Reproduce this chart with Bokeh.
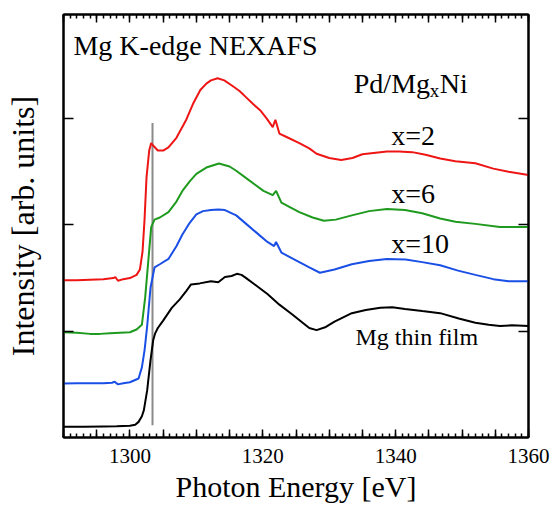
from bokeh.plotting import figure
from bokeh.models import FixedTicker, LinearAxis, CustomLabelingPolicy
from bokeh.core.properties import value
from bokeh.embed import file_html
from bokeh.resources import INLINE

# ---- data ----
e_x2 = [1290, 1292, 1294, 1296, 1297.5, 1297.8, 1298.2, 1299, 1300, 1301, 1301.5, 1301.9, 1302.2, 1302.5,
        1302.9, 1303.2, 1303.6, 1304.2, 1305, 1305.8, 1307, 1308.4, 1309.5, 1310.6, 1311.5, 1312.2, 1313.2,
        1314.2, 1315.4, 1316.5, 1317.5, 1318.5, 1319.6, 1320.6, 1321.5, 1321.9, 1322.5, 1323.5, 1325.5, 1327,
        1328.1, 1330, 1331.8, 1333.5, 1335, 1337, 1338.7, 1340.5, 1342.5, 1344.5, 1346.7, 1349, 1352, 1354.7,
        1357, 1360]
i_x2 = [1.48, 1.48, 1.485, 1.49, 1.50, 1.51, 1.475, 1.49, 1.50, 1.53, 1.58, 1.75, 2.05, 2.45,
        2.70, 2.77, 2.74, 2.70, 2.70, 2.73, 2.82, 2.98, 3.14, 3.27, 3.33, 3.36, 3.38,
        3.36, 3.31, 3.26, 3.20, 3.14, 3.08, 3.00, 2.92, 2.99, 2.86, 2.83, 2.77, 2.72,
        2.67, 2.63, 2.61, 2.63, 2.665, 2.68, 2.69, 2.69, 2.685, 2.66, 2.625, 2.60, 2.58, 2.53,
        2.50, 2.47]

e_x6 = [1290, 1292, 1294, 1295.5, 1297, 1298.5, 1300, 1301, 1301.8, 1302.3, 1302.9, 1303.2, 1303.7, 1304.5,
        1305.8, 1307, 1307.9, 1309, 1310, 1311.5, 1313.4, 1315, 1316, 1317.5, 1318.8, 1320.1, 1321.5, 1322,
        1322.8, 1324, 1325.5, 1327.5, 1329.2, 1331, 1333.4, 1336, 1338.7, 1341.4, 1344, 1346.7, 1349, 1352,
        1355.7, 1360]
i_x6 = [0.99, 0.985, 0.975, 0.975, 0.98, 0.985, 0.99, 1.016, 1.06, 1.32, 1.76, 1.98, 2.05, 2.07,
        2.12, 2.22, 2.32, 2.41, 2.48, 2.54, 2.578, 2.55, 2.51, 2.44, 2.38, 2.32, 2.28, 2.32,
        2.21, 2.17, 2.12, 2.07, 2.04, 2.05, 2.09, 2.13, 2.15, 2.14, 2.11, 2.06, 2.03, 2.01,
        1.98, 1.98]

e_x10 = [1290, 1292, 1294, 1296, 1297.3, 1297.7, 1298.2, 1299, 1300, 1301.3, 1301.8, 1302.2, 1302.6, 1303.1,
         1303.7, 1304.5, 1305.8, 1307, 1307.9, 1309, 1310, 1311, 1312.2, 1313.3, 1314.3, 1316, 1317.5, 1319,
         1320.7, 1321.7, 1322, 1322.8, 1324, 1325.5, 1327, 1328.6, 1330.8, 1333.4, 1336, 1338.7, 1341.5, 1344,
         1346.7, 1349.4, 1352, 1354.7, 1357, 1360]
i_x10 = [0.508, 0.51, 0.51, 0.51, 0.515, 0.525, 0.50, 0.51, 0.52, 0.555, 0.66, 0.82, 1.05, 1.41,
         1.60, 1.63, 1.68, 1.80, 1.91, 2.02, 2.10, 2.13, 2.14, 2.145, 2.14, 2.09, 2.01, 1.93,
         1.84, 1.80, 1.84, 1.74, 1.70, 1.65, 1.60, 1.55, 1.58, 1.63, 1.66, 1.68, 1.675, 1.65,
         1.62, 1.57, 1.53, 1.49, 1.47, 1.47]

e_mg = [1290, 1293, 1296, 1298, 1300, 1300.8, 1301.3, 1301.8, 1302.1, 1302.6, 1303.1, 1303.5, 1303.8, 1304.2,
        1305, 1306.3, 1307.5, 1308.5, 1309.2, 1310.5, 1312.2, 1313.3, 1314.3, 1315.3, 1316.1, 1316.8, 1317.5,
        1319, 1320.7, 1322.5, 1324.4, 1326, 1327, 1328.1, 1329.5, 1330.8, 1333.4, 1335.5, 1337.7, 1339.5,
        1341.4, 1344, 1346.7, 1349.5, 1352, 1354, 1355.7, 1357.5, 1360]
i_mg = [0.10, 0.10, 0.103, 0.105, 0.11, 0.12, 0.147, 0.20, 0.257, 0.445, 0.727, 0.915, 0.98, 1.03,
        1.10, 1.22, 1.30, 1.38, 1.44, 1.45, 1.47, 1.46, 1.51, 1.52, 1.54, 1.53, 1.50,
        1.43, 1.35, 1.25, 1.16, 1.08, 1.03, 1.01, 1.04, 1.09, 1.17, 1.20, 1.22, 1.225,
        1.21, 1.19, 1.17, 1.12, 1.08, 1.06, 1.05, 1.055, 1.05]

edge_energy = [1303.4, 1303.4]
edge_range = [0.115, 2.96]

x_major = [1290, 1295, 1300, 1305, 1310, 1315, 1320, 1325, 1330, 1335, 1340, 1345, 1350, 1355, 1360]
x_minor = list(range(1290, 1361))
x_labels = {1300: "1300", 1320: "1320", 1340: "1340", 1360: "1360"}
y_major = [1, 2, 3]

FONT = "Liberation Serif"

p = figure(width=553, height=510, x_range=(1290, 1360), y_range=(0, 3.98),
           output_backend="svg", toolbar_location=None,
           min_border_left=63, min_border_right=25, min_border_top=14, min_border_bottom=73)
p.grid.visible = False
p.background_fill_color = "white"
p.border_fill_color = "white"
p.outline_line_color = "black"
p.outline_line_width = 2

def style_axis(ax, ticker, major_in, minor_in):
    ax.ticker = ticker
    ax.axis_line_width = 2
    ax.axis_line_color = "black"
    ax.major_tick_in = major_in
    ax.major_tick_out = 0
    ax.minor_tick_in = minor_in
    ax.minor_tick_out = 0
    ax.major_tick_line_width = 1.5
    ax.minor_tick_line_width = 1.5

def hide_labels(ax):
    ax.major_label_text_font_size = "0px"
    ax.major_label_text_color = None
    ax.major_label_standoff = 0

bx = p.xaxis[0]
style_axis(bx, FixedTicker(ticks=x_major, minor_ticks=x_minor), 8, 4)
bx.major_label_overrides = {t: x_labels.get(t, "") for t in x_major}
bx.major_label_policy = CustomLabelingPolicy(
    code="for (const i of indices) { if (i % 4 == 2) { yield i } }")
bx.major_label_text_font = FONT
bx.major_label_text_font_size = "21px"
bx.major_label_text_color = "black"
bx.major_label_standoff = 11
bx.axis_label = "Photon Energy [eV]"
bx.axis_label_text_font = FONT
bx.axis_label_text_font_size = "30px"
bx.axis_label_text_font_style = "normal"
bx.axis_label_text_color = "black"
bx.axis_label_standoff = 4

ly = p.yaxis[0]
style_axis(ly, FixedTicker(ticks=y_major, minor_ticks=[]), 10, 0)
hide_labels(ly)
ly.axis_label = "Intensity [arb. units]"
ly.axis_label_text_font = FONT
ly.axis_label_text_font_size = "32px"
ly.axis_label_text_font_style = "normal"
ly.axis_label_text_color = "black"
ly.axis_label_standoff = 23

top = LinearAxis()
style_axis(top, FixedTicker(ticks=x_major, minor_ticks=x_minor), 8, 4)
hide_labels(top)
p.add_layout(top, "above")

right = LinearAxis()
style_axis(right, FixedTicker(ticks=y_major, minor_ticks=[]), 10, 0)
hide_labels(right)
p.add_layout(right, "right")

# curves
p.line(edge_energy, edge_range, line_color="#8a8a8a", line_width=2)
p.line(e_mg, i_mg, line_color="black", line_width=2)
p.line(e_x10, i_x10, line_color="#1a4fe6", line_width=2)
p.line(e_x6, i_x6, line_color="#1e9a1e", line_width=2)
p.line(e_x2, i_x2, line_color="#ee1515", line_width=2)

# annotations
def txt(x, y, s, size, **kw):
    p.text(x=[x], y=[y], text=[s], text_font=value(FONT), text_font_size=size,
           text_color="black", text_baseline="alphabetic", text_align="left", **kw)

txt(1291.5, 3.69, "Mg K-edge NEXAFS", "28px")
txt(1333.7, 3.33, "Pd/Mg", "28px")
txt(1333.7, 3.33, "x", "19px", x_offset=76, y_offset=7)
txt(1333.7, 3.33, "Ni", "28px", x_offset=86)
txt(1339.35, 2.845, "x=2", "28px")
txt(1339.35, 2.295, "x=6", "28px")
txt(1339.35, 1.825, "x=10", "28px")
txt(1333.95, 0.95, "Mg thin film", "24px")

open("out.html", "w").write(file_html(p, INLINE))
